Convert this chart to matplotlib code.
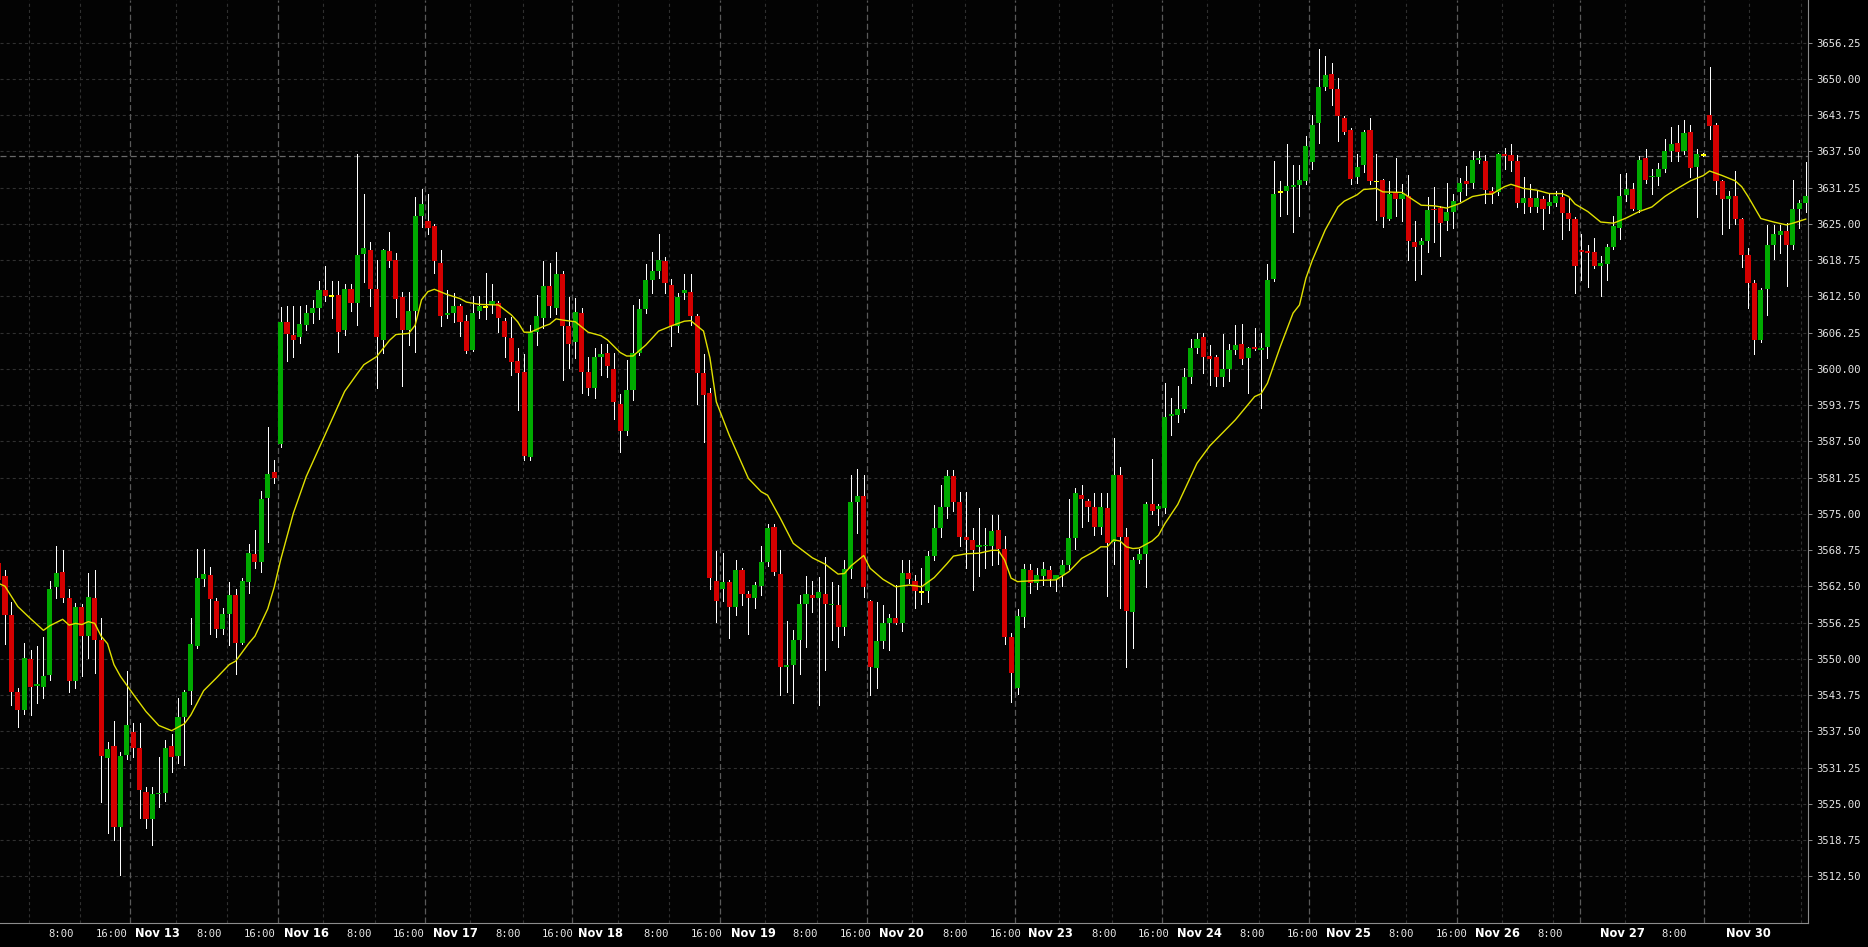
import matplotlib
matplotlib.use('Agg')
import matplotlib.pyplot as plt
import numpy as np

# hourly ES candles, Nov 12 - Nov 30 (one entry per slot)
opens = [
    3566.5, 3564.2, 3557.5, 3544.3, 3541.2, 3549.9, 3545.3, 3545.2, 3547.2, 3562.3,
    3565.0, 3560.5, 3546.2, 3558.9, 3554.0, 3560.5, 3553.2, 3532.9, 3534.9, 3521.0,
    3533.4, 3537.4, 3534.6, 3527.1, 3522.3, 3526.6, 3526.8, 3535.0, 3533.3, 3539.9,
    3544.5, 3552.2, 3563.7, 3564.4, 3559.9, 3555.1, 3557.8, 3561.0, 3552.8, 3563.3,
    3568.1, 3566.7, 3577.8, 3582.2, 3587.1, 3608.1, 3605.8, 3605.4, 3607.6, 3609.7,
    3610.5, 3613.6, 3612.6, 3612.7, 3606.6, 3613.8, 3611.4, 3619.8, 3620.4, 3613.8,
    3605.0, 3620.3, 3618.7, 3612.4, 3606.6, 3610.0, 3626.4, 3625.5, 3624.6, 3618.3,
    3609.3, 3609.7, 3610.8, 3608.2, 3603.2, 3610.0, 3610.7, 3611.1, 3611.3, 3608.2,
    3605.3, 3601.3, 3599.5, 3584.8, 3606.4, 3608.8, 3614.3, 3610.5, 3616.3, 3607.4,
    3604.7, 3609.7, 3599.5, 3596.6, 3602.1, 3602.8, 3600.0, 3594.0, 3589.2, 3596.3,
    3602.7, 3610.3, 3615.3, 3616.8, 3618.6, 3614.5, 3607.3, 3613.0, 3613.2, 3609.1,
    3599.3, 3595.8, 3563.4, 3562.1, 3563.2, 3559.0, 3565.3, 3561.1, 3560.4, 3562.6,
    3566.7, 3572.8, 3564.7, 3548.5, 3549.0, 3553.2, 3559.4, 3561.0, 3560.4, 3561.1,
    3559.2, 3559.3, 3555.5, 3565.5, 3577.1, 3578.1, 3559.9, 3548.4, 3553.0, 3556.2,
    3557.0, 3556.2, 3564.8, 3563.4, 3561.5, 3561.7, 3567.7, 3572.5, 3576.2, 3581.5,
    3577.1, 3571.0, 3570.5, 3569.3, 3569.4, 3569.5, 3572.2, 3568.9, 3553.8, 3545.0,
    3557.2, 3565.3, 3563.0, 3564.3, 3565.3, 3563.7, 3564.4, 3566.2, 3570.9, 3578.2,
    3577.2, 3576.2, 3572.8, 3576.0, 3570.2, 3581.7, 3571.0, 3558.0, 3567.0, 3568.0,
    3576.6, 3575.9, 3576.0, 3591.9, 3592.0, 3593.0, 3598.6, 3603.5, 3605.4, 3602.2,
    3602.0, 3598.6, 3599.9, 3603.3, 3604.3, 3601.9, 3603.8, 3603.3, 3603.8, 3615.5,
    3630.5, 3630.7, 3631.3, 3631.6, 3632.4, 3635.7, 3642.4, 3648.6, 3650.8, 3648.3,
    3643.3, 3641.2, 3633.0, 3635.1, 3641.2, 3632.3, 3632.5, 3625.9, 3630.4, 3629.2,
    3629.8, 3621.9, 3621.3, 3622.0, 3627.5, 3627.8, 3625.4, 3627.1, 3630.4, 3632.3,
    3632.0, 3636.0, 3635.9, 3630.6, 3630.5, 3637.0, 3636.8, 3635.8, 3628.6, 3629.5,
    3627.9, 3629.3, 3628.0, 3628.5, 3629.7, 3626.9, 3625.8, 3620.5, 3620.3, 3620.2,
    3617.8, 3618.1, 3621.0, 3624.3, 3630.0, 3631.0, 3627.4, 3636.3, 3633.0, 3633.1,
    3634.5, 3637.5, 3639.0, 3637.5, 3640.8, 3634.8, 3636.9, 3643.7, 3642.0, 3632.4,
    3629.2, 3629.8, 3625.8, 3619.7, 3614.8, 3604.9, 3613.7, 3621.4, 3623.0, 3623.7,
    3621.3, 3627.6, 3628.6,
]
highs = [
    3568.0, 3565.3, 3559.8, 3544.9, 3552.7, 3551.5, 3552.2, 3553.8, 3563.4, 3569.4,
    3568.7, 3562.0, 3559.6, 3559.4, 3564.8, 3565.3, 3557.0, 3535.7, 3539.3, 3534.0,
    3547.9, 3538.9, 3538.9, 3527.9, 3527.9, 3533.1, 3536.0, 3537.1, 3543.2, 3544.6,
    3557.0, 3568.9, 3569.0, 3565.9, 3560.5, 3558.7, 3563.3, 3562.1, 3564.0, 3569.8,
    3572.2, 3578.9, 3590.0, 3584.3, 3610.7, 3610.9, 3610.9, 3610.9, 3611.0, 3611.9,
    3615.1, 3617.7, 3615.1, 3615.1, 3614.6, 3614.6, 3637.0, 3630.2, 3621.8, 3618.7,
    3620.6, 3623.5, 3619.9, 3613.3, 3613.3, 3629.7, 3631.0, 3630.1, 3625.0, 3620.5,
    3613.6, 3613.0, 3611.2, 3609.2, 3612.6, 3612.6, 3616.5, 3614.6, 3611.7, 3608.7,
    3609.0, 3603.6, 3602.5, 3607.5, 3612.7, 3618.6, 3618.2, 3620.2, 3616.8, 3612.3,
    3612.2, 3610.5, 3602.1, 3603.5, 3604.3, 3604.2, 3602.8, 3595.7, 3601.5, 3611.0,
    3612.0, 3618.0, 3620.1, 3623.2, 3619.2, 3615.4, 3613.0, 3616.3, 3616.3, 3609.4,
    3602.6, 3596.6, 3568.5, 3568.2, 3563.5, 3567.0, 3565.6, 3561.6, 3563.3, 3569.5,
    3573.3, 3573.3, 3568.7, 3556.5, 3555.0, 3561.0, 3564.3, 3563.4, 3564.1, 3567.6,
    3563.2, 3562.7, 3567.0, 3581.6, 3582.7, 3581.6, 3560.2, 3559.8, 3559.3, 3557.8,
    3562.7, 3567.0, 3567.0, 3564.4, 3565.6, 3568.5, 3576.5, 3579.9, 3582.5, 3582.5,
    3578.8, 3578.8, 3572.5, 3576.0, 3572.6, 3574.8, 3574.8, 3571.2, 3554.5, 3558.5,
    3566.4, 3566.4, 3565.6, 3566.6, 3566.0, 3564.5, 3567.0, 3577.6, 3579.5, 3579.9,
    3577.5, 3578.5, 3578.5, 3578.5, 3588.0, 3583.1, 3572.6, 3567.5, 3568.9, 3577.0,
    3584.4, 3576.6, 3597.5, 3594.9, 3597.1, 3600.1, 3605.2, 3606.1, 3606.1, 3604.1,
    3602.3, 3606.0, 3604.3, 3607.5, 3607.7, 3603.8, 3607.0, 3606.1, 3618.1, 3635.9,
    3632.4, 3638.7, 3635.1, 3635.1, 3640.1, 3643.7, 3655.1, 3653.9, 3652.8, 3650.1,
    3643.5, 3641.5, 3637.0, 3641.2, 3643.3, 3637.0, 3632.8, 3632.3, 3636.3, 3631.9,
    3633.4, 3625.4, 3622.5, 3629.7, 3631.4, 3628.0, 3632.0, 3630.2, 3632.9, 3634.9,
    3637.6, 3637.5, 3636.8, 3631.4, 3637.2, 3638.0, 3638.7, 3636.8, 3633.0, 3631.8,
    3630.6, 3629.8, 3630.1, 3630.6, 3630.8, 3629.7, 3626.1, 3623.2, 3621.3, 3622.6,
    3619.5, 3621.5, 3626.3, 3633.5, 3633.7, 3632.0, 3636.6, 3637.9, 3634.5, 3635.4,
    3639.7, 3641.6, 3642.0, 3642.9, 3642.0, 3637.9, 3637.2, 3652.1, 3642.3, 3632.6,
    3630.6, 3634.1, 3626.0, 3620.9, 3615.3, 3614.0, 3624.8, 3624.8, 3624.8, 3625.1,
    3632.5, 3629.1, 3635.7,
]
lows = [
    3562.0, 3552.6, 3542.0, 3538.2, 3540.5, 3540.3, 3542.3, 3543.3, 3546.3, 3560.4,
    3559.8, 3544.3, 3544.9, 3547.0, 3550.1, 3547.6, 3525.3, 3519.9, 3518.7, 3512.8,
    3532.8, 3533.1, 3522.5, 3520.8, 3517.9, 3524.4, 3525.4, 3530.4, 3532.1, 3531.7,
    3542.2, 3551.9, 3562.5, 3554.3, 3553.8, 3554.3, 3552.4, 3547.3, 3552.5, 3561.3,
    3565.6, 3564.9, 3570.2, 3580.3, 3586.5, 3601.4, 3602.1, 3604.5, 3606.7, 3607.9,
    3608.6, 3611.6, 3608.7, 3602.9, 3605.8, 3610.0, 3607.5, 3615.0, 3610.9, 3596.7,
    3602.7, 3617.6, 3609.0, 3597.1, 3604.1, 3602.9, 3624.5, 3623.3, 3616.5, 3607.4,
    3608.8, 3608.0, 3605.7, 3602.7, 3603.0, 3608.7, 3608.6, 3609.7, 3606.4, 3602.1,
    3598.9, 3592.9, 3584.3, 3584.3, 3604.1, 3607.0, 3609.0, 3609.5, 3598.1, 3600.1,
    3601.8, 3595.8, 3595.5, 3594.9, 3598.9, 3598.5, 3591.3, 3585.7, 3588.5, 3594.6,
    3602.4, 3609.6, 3613.0, 3615.6, 3613.0, 3604.0, 3606.4, 3612.0, 3607.5, 3594.0,
    3587.4, 3562.1, 3556.4, 3560.0, 3553.6, 3557.5, 3559.3, 3554.2, 3558.7, 3561.0,
    3566.0, 3564.5, 3543.7, 3544.3, 3542.3, 3547.3, 3552.1, 3558.0, 3542.0, 3548.1,
    3553.2, 3552.1, 3554.1, 3563.9, 3571.6, 3560.7, 3543.7, 3544.9, 3551.8, 3551.5,
    3556.0, 3554.8, 3563.0, 3558.8, 3559.4, 3559.8, 3567.0, 3571.0, 3574.2, 3575.4,
    3569.5, 3565.6, 3561.8, 3564.3, 3565.6, 3566.2, 3566.4, 3552.5, 3542.5, 3544.0,
    3555.5, 3561.3, 3562.0, 3562.8, 3562.6, 3561.7, 3562.6, 3565.5, 3569.0, 3572.8,
    3573.7, 3571.3, 3571.5, 3560.9, 3566.4, 3558.8, 3548.6, 3551.9, 3566.5, 3562.4,
    3575.0, 3573.0, 3575.2, 3588.6, 3590.9, 3592.5, 3597.6, 3602.8, 3599.3, 3597.2,
    3597.1, 3597.1, 3597.9, 3602.5, 3600.9, 3595.9, 3603.2, 3593.2, 3601.8, 3615.2,
    3626.3, 3626.7, 3623.5, 3626.3, 3631.8, 3634.4, 3639.0, 3648.0, 3645.5, 3639.2,
    3640.5, 3631.9, 3632.0, 3634.0, 3631.8, 3625.6, 3624.5, 3625.7, 3626.4, 3625.4,
    3618.7, 3615.3, 3616.4, 3620.2, 3621.9, 3619.4, 3624.0, 3624.2, 3629.0, 3630.0,
    3631.1, 3635.5, 3628.5, 3628.6, 3630.0, 3634.4, 3634.1, 3627.9, 3626.9, 3627.0,
    3627.0, 3624.1, 3626.9, 3628.0, 3622.4, 3623.9, 3613.1, 3615.3, 3614.1, 3617.3,
    3612.6, 3615.3, 3620.7, 3622.4, 3629.0, 3627.4, 3627.0, 3632.0, 3630.2, 3631.7,
    3634.0, 3635.8, 3635.8, 3637.0, 3633.1, 3626.2, 3636.6, 3639.7, 3630.1, 3623.2,
    3624.2, 3625.0, 3617.6, 3610.4, 3602.6, 3604.7, 3609.2, 3618.9, 3619.9, 3614.2,
    3620.6, 3624.2, 3627.0,
]
closes = [
    3563.5, 3557.5, 3544.3, 3541.2, 3550.1, 3545.2, 3545.6, 3547.1, 3562.0, 3564.8,
    3560.5, 3546.2, 3558.9, 3554.0, 3560.6, 3553.3, 3533.3, 3534.5, 3521.0, 3533.3,
    3538.6, 3534.6, 3527.3, 3522.3, 3526.7, 3526.9, 3534.6, 3533.0, 3539.9, 3544.3,
    3552.5, 3563.9, 3564.7, 3560.3, 3555.1, 3557.8, 3561.0, 3552.8, 3563.4, 3568.2,
    3566.7, 3577.5, 3581.8, 3581.2, 3608.1, 3606.0, 3605.0, 3607.7, 3609.6, 3610.5,
    3613.6, 3612.5, 3612.6, 3606.4, 3613.8, 3611.4, 3619.6, 3620.8, 3613.8, 3605.4,
    3620.4, 3618.6, 3612.0, 3606.6, 3610.0, 3626.4, 3628.4, 3624.3, 3618.6, 3609.1,
    3609.7, 3610.8, 3608.1, 3603.1, 3609.7, 3610.8, 3610.7, 3611.6, 3608.7, 3605.5,
    3601.1, 3599.3, 3585.0, 3606.4, 3609.1, 3614.3, 3610.8, 3616.3, 3607.4, 3604.2,
    3609.8, 3599.5, 3596.6, 3602.1, 3602.6, 3600.4, 3594.3, 3589.2, 3596.3, 3602.7,
    3610.3, 3615.3, 3616.8, 3618.7, 3614.8, 3607.3, 3612.4, 3613.5, 3609.1, 3599.3,
    3595.5, 3563.9, 3560.0, 3563.2, 3559.0, 3565.3, 3561.1, 3560.4, 3562.7, 3566.6,
    3572.6, 3564.9, 3548.5, 3549.0, 3553.2, 3559.4, 3561.1, 3560.5, 3561.5, 3559.4,
    3559.4, 3555.5, 3565.5, 3577.1, 3578.1, 3562.3, 3548.5, 3553.0, 3556.1, 3557.1,
    3556.2, 3564.8, 3563.8, 3561.7, 3561.5, 3567.7, 3572.5, 3576.2, 3581.5, 3577.1,
    3571.0, 3570.5, 3568.7, 3569.6, 3569.7, 3572.0, 3568.9, 3553.8, 3547.5, 3557.3,
    3565.5, 3563.0, 3564.4, 3565.5, 3563.7, 3564.4, 3566.2, 3570.8, 3578.5, 3577.6,
    3576.2, 3572.8, 3576.2, 3569.9, 3581.7, 3571.0, 3558.3, 3567.0, 3568.0, 3576.6,
    3575.5, 3576.3, 3591.6, 3592.2, 3593.0, 3598.6, 3603.5, 3605.2, 3602.1, 3601.6,
    3598.6, 3599.9, 3603.3, 3604.1, 3601.6, 3603.5, 3603.4, 3603.5, 3615.3, 3630.2,
    3630.5, 3631.5, 3631.6, 3632.5, 3638.4, 3642.0, 3648.5, 3650.6, 3648.2, 3643.5,
    3640.9, 3632.7, 3634.8, 3640.9, 3632.4, 3632.3, 3626.1, 3630.1, 3629.2, 3630.2,
    3622.1, 3621.0, 3622.0, 3627.4, 3627.3, 3625.2, 3627.1, 3629.0, 3632.0, 3631.9,
    3636.0, 3636.3, 3630.9, 3630.2, 3637.0, 3636.7, 3635.8, 3628.6, 3629.5, 3627.9,
    3629.5, 3627.5, 3628.7, 3629.8, 3626.9, 3625.8, 3617.8, 3620.2, 3620.0, 3617.8,
    3618.2, 3621.0, 3624.6, 3629.8, 3631.0, 3627.5, 3636.0, 3632.5, 3633.1, 3634.5,
    3637.5, 3638.7, 3637.4, 3640.6, 3634.7, 3637.0, 3636.9, 3641.9, 3632.4, 3629.2,
    3629.8, 3625.9, 3619.7, 3614.8, 3604.9, 3613.6, 3621.3, 3623.2, 3623.7, 3621.3,
    3627.5, 3628.6, 3629.8,
]

# moving average (yellow), read at these candle slots
ma_idx = [0, 1, 3, 5, 7, 8, 10, 11, 12, 13, 14, 15, 16, 17, 18, 19, 21, 23, 25, 27,
          29, 30, 32, 34, 36, 37, 39, 40, 42, 43, 44, 46, 48, 50, 52, 54, 56, 57, 59, 61,
          62, 64, 65, 66, 67, 68, 70, 72, 73, 75, 78, 80, 81, 82, 83, 85, 86, 87, 88, 90,
          92, 94, 95, 97, 98, 99, 101, 103, 105, 107, 108, 110, 111, 112, 114, 117, 119, 120, 122, 124,
          127, 129, 131, 132, 133, 135, 136, 138, 140, 142, 143, 144, 146, 148, 149, 151, 153, 155, 156, 157,
          158, 159, 162, 165, 167, 169, 171, 172, 173, 174, 175, 176, 177, 178, 180, 181, 182, 184, 187, 189,
          193, 196, 197, 198, 200, 202, 203, 204, 205, 207, 209, 210, 212, 213, 215, 216, 219, 222, 224, 226,
          228, 230, 232, 233, 235, 236, 238, 240, 242, 244, 245, 246, 248, 250, 252, 254, 256, 258, 260, 262,
          264, 266, 267, 269, 271, 272, 273, 274, 275, 277, 279, 280, 282]
ma_val = [3563.0, 3562.5, 3559.0, 3556.9, 3554.9, 3555.7, 3556.8, 3555.8, 3556.1, 3555.9,
          3556.4, 3556.1, 3553.9, 3552.6, 3549.0, 3547.0, 3543.9, 3540.9, 3538.5, 3537.6,
          3538.8, 3540.3, 3544.5, 3546.7, 3549.0, 3549.6, 3552.6, 3553.9, 3558.6, 3562.3,
          3567.0, 3575.1, 3581.4, 3586.3, 3591.2, 3596.1, 3599.2, 3600.7, 3602.1, 3604.9,
          3605.9, 3606.1, 3607.5, 3611.9, 3613.3, 3613.7, 3612.8, 3612.1, 3611.5, 3611.1,
          3611.0, 3609.3, 3608.1, 3606.3, 3606.3, 3607.3, 3607.7, 3608.6, 3608.4, 3608.1,
          3606.3, 3605.7, 3605.0, 3602.8, 3602.2, 3602.2, 3604.1, 3606.5, 3607.4, 3608.2,
          3608.3, 3606.5, 3601.9, 3594.3, 3588.6, 3581.1, 3578.8, 3578.2, 3574.2, 3569.9,
          3567.4, 3566.3, 3564.6, 3564.7, 3566.0, 3567.8, 3565.6, 3563.7, 3562.4, 3562.7,
          3562.6, 3562.4, 3564.0, 3566.4, 3567.7, 3568.1, 3568.2, 3568.7, 3568.7, 3567.0,
          3563.9, 3563.3, 3563.5, 3563.6, 3565.0, 3567.3, 3568.5, 3569.3, 3569.3, 3570.5,
          3570.3, 3569.3, 3569.0, 3569.1, 3570.3, 3571.3, 3573.3, 3576.6, 3583.7, 3586.7,
          3591.2, 3595.2, 3595.7, 3597.5, 3603.8, 3609.6, 3611.0, 3615.6, 3618.7, 3623.9,
          3627.9, 3628.9, 3630.0, 3630.9, 3631.1, 3630.5, 3630.4, 3628.2, 3628.1, 3627.7,
          3628.5, 3629.7, 3630.1, 3630.1, 3631.4, 3631.8, 3631.1, 3630.8, 3630.2, 3630.2,
          3629.7, 3628.4, 3627.1, 3625.3, 3625.1, 3626.0, 3627.1, 3627.9, 3629.7, 3631.1,
          3632.4, 3633.3, 3634.1, 3633.3, 3632.4, 3631.4, 3629.7, 3627.8, 3625.9, 3625.3,
          3624.8, 3625.1, 3625.8]

label_txt = ['8:00', '16:00', 'Nov 13', '8:00', '16:00', 'Nov 16', '8:00', '16:00', 'Nov 17',
             '8:00', '16:00', 'Nov 18', '8:00', '16:00', 'Nov 19', '8:00', '16:00', 'Nov 20',
             '8:00', '16:00', 'Nov 23', '8:00', '16:00', 'Nov 24', '8:00', '16:00', 'Nov 25',
             '8:00', '16:00', 'Nov 26', '8:00', 'Nov 27', '8:00', 'Nov 30']
label_pos = [9.78, 17.61, 24.78, 32.92, 40.81, 48.02, 56.23, 64.01, 71.28,
             79.47, 87.19, 93.98, 102.68, 110.52, 117.74, 125.93, 133.76, 140.92,
             149.25, 157.08, 164.18, 172.45, 180.22, 187.42, 195.6, 203.54, 210.71,
             218.9, 226.78, 233.96, 242.15, 253.46, 261.45, 273.01]

# vertical grid: session starts (lighter) and intraday lines (darker)
session_lines = [20.53, 43.67, 66.52, 89.53, 112.55, 135.54, 158.6, 181.56, 204.48,
                 227.59, 246.81, 266.12]
hour_lines = [4.67, 12.64, 27.68, 35.71, 50.69, 58.72, 73.62, 81.76, 96.71, 104.65,
              119.64, 127.66, 142.59, 150.73, 165.54, 173.75, 188.61, 196.67, 211.61,
              219.63, 234.62, 242.55, 253.84, 273.14, 281.3]

price_line = 3636.75

plt.rcParams['lines.scale_dashes'] = False

fig = plt.figure(figsize=(18.68, 9.47), dpi=100, facecolor='black')
ax = fig.add_axes([0, 23.7 / 947, 1808.3 / 1868, 923.3 / 947])
ax.set_facecolor('#030303')

o = np.array(opens)
h = np.array(highs)
l = np.array(lows)
c = np.array(closes)
x = np.arange(len(o))

up = c > o
dn = c < o
flat = c == o
body = np.maximum(np.abs(c - o), 0.3)
base = np.minimum(o, c)
base[flat] = o[flat] - 0.15

ax.vlines(x, l, h, color='white', lw=0.55, antialiased=False, zorder=2)
ax.bar(x[up], body[up], bottom=base[up], width=0.8, color='#00aa00', lw=0, zorder=3)
ax.bar(x[dn], body[dn], bottom=base[dn], width=0.8, color='#d40000', lw=0, zorder=3)
ax.bar(x[flat], body[flat], bottom=base[flat], width=0.8, color='#ffff00', lw=0, zorder=3)

ax.plot(ma_idx, ma_val, color='#e0e000', lw=1.0, zorder=4)

yt = np.arange(3512.5, 3657, 6.25)
for y in yt:
    ax.axhline(y, color='#303030', lw=0.8, dashes=(2.2, 2.2), zorder=1)
for v in hour_lines:
    ax.axvline(v, color='#303030', lw=0.8, dashes=(2.2, 2.2), zorder=1)
for v in session_lines:
    ax.axvline(v, color='#5a5a5a', lw=0.9, dashes=(4.3, 2.2), zorder=1)
ax.axhline(price_line, color='#6a6a6a', lw=0.9, dashes=(4.3, 2.4), zorder=1)

ax.set_xlim(0.22, 282.4)
ax.set_ylim(3504.39, 3663.58)

ax.yaxis.tick_right()
ax.set_yticks(yt)
ax.set_yticklabels(['%.2f' % v for v in yt], family='DejaVu Sans Mono', fontsize=7.6, color='#e8e8e8')
ax.tick_params(axis='y', length=3, width=0.7, color='#8c8c8c', pad=3)
ax.set_xticks([])

for s in ['top', 'left']:
    ax.spines[s].set_visible(False)
for s in ['right', 'bottom']:
    ax.spines[s].set_color('#8c8c8c')
    ax.spines[s].set_linewidth(0.8)

tr = ax.get_xaxis_transform()
for p, t in zip(label_pos, label_txt):
    if t.startswith('Nov'):
        ax.text(p, -0.0115, t, transform=tr, ha='center', va='center',
                fontsize=8.3, fontweight='bold', color='white', family='DejaVu Sans')
    else:
        ax.text(p, -0.0115, t, transform=tr, ha='center', va='center',
                fontsize=7.6, color='#e8e8e8', family='DejaVu Sans Mono')

fig.savefig('out.png', dpi=100, facecolor='black')
